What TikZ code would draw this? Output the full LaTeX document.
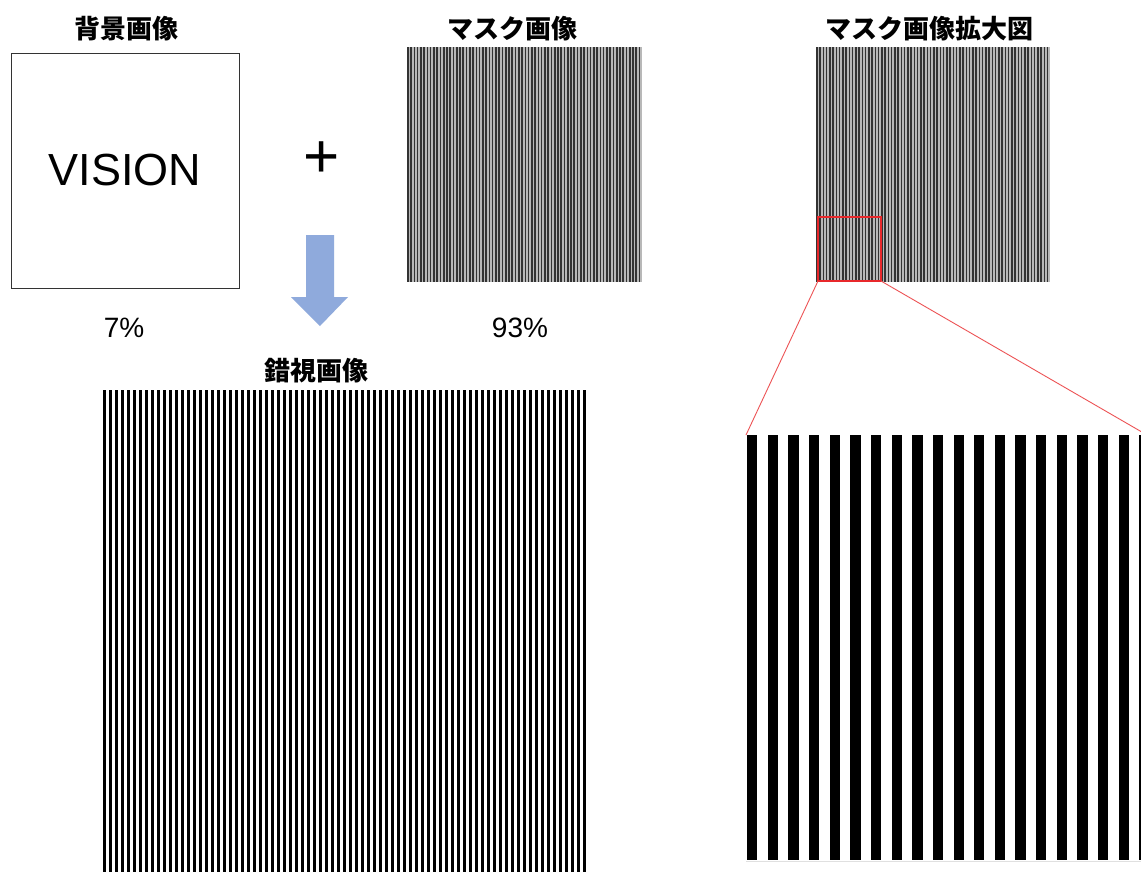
\documentclass[tikz,border=0pt]{standalone}
\usepackage{fontspec}
\setmainfont{Liberation Sans}
\newfontfamily\jp{Noto Sans CJK JP}
\definecolor{arrowblue}{HTML}{8FAADC}
\definecolor{zoomred}{HTML}{E8282B}
\begin{document}
\begin{tikzpicture}[x=1pt,y=-1pt,
  title/.style={font=\jp\bfseries\fontsize{26}{30}\selectfont, inner sep=0pt, anchor=center},
  pct/.style={font=\fontsize{28}{32}\selectfont, inner sep=0pt},
  panel/.style={inner sep=0pt, outer sep=0pt, anchor=north west},
  stripe/.style={fill=black},
  finestripe/.style={fill=black!80},
  zoomline/.style={draw=zoomred!80, line width=0.9pt}
]
\useasboundingbox[fill=white] (0,0) rectangle (1141,871);

% titles
\node[title] (t1) at (126,29) {背景画像};
\node[title] (t2) at (512,29) {マスク画像};
\node[title] (t3) at (929,29) {マスク画像拡大図};
\node[title] (t4) at (316,371) {錯視画像};

% background image
\node[panel, draw=black!80, line width=0.9pt, minimum width=228pt, minimum height=235pt] (bg) at (11,53) {};
\node[font=\fontsize{45}{50}\selectfont, inner sep=0pt] (vision) at (bg.center) {VISION};
\node[font=\fontsize{62}{66}\selectfont, inner sep=0pt] (plus) at (322,160) {+};

% percentages
\node[pct] (p7) at (124,328) {7\%};
\node[pct] (p93) at (520,328) {93\%};

% blue arrow
\fill[arrowblue] (306,235) -- (334,235) -- (334,297) -- (348,297) -- (320,326) -- (291,297) -- (306,297) -- cycle;

% mask image
\node[panel, fill=black!28, minimum width=235pt, minimum height=235pt] (mask) at (407,47) {};
\foreach \i in {0,...,71} \fill[finestripe] (407+\i*3.264,47) rectangle ++(1.63,235);

% mask image (for enlargement)
\node[panel, fill=black!28, minimum width=234pt, minimum height=235pt] (mask2) at (816,47) {};
\foreach \i in {0,...,71} \fill[finestripe] (816+\i*3.25,47) rectangle ++(1.62,235);

% red zoom box
\node[panel, draw=zoomred, line width=1.8pt, minimum width=63pt, minimum height=64pt] (zbox) at (818,217) {};

% enlarged panel
\coordinate (enlNW) at (746,435);
\coordinate (enlNE) at (1147,435);
\foreach \i in {0,...,19} \fill[stripe] (747+\i*20.65,435) rectangle ++(10.3,425);
\draw[black!12, line width=1pt] (746,861) -- (1141,861);

\draw[zoomline] (zbox.south west) -- (enlNW);
\draw[zoomline] (zbox.south east) -- (enlNE);

% illusion image
\node[panel, minimum width=486pt, minimum height=482pt] (illu) at (103,390) {};
\foreach \i in {0,...,80} \fill[stripe] (103+\i*6,390) rectangle ++(3,482);
\end{tikzpicture}
\end{document}
